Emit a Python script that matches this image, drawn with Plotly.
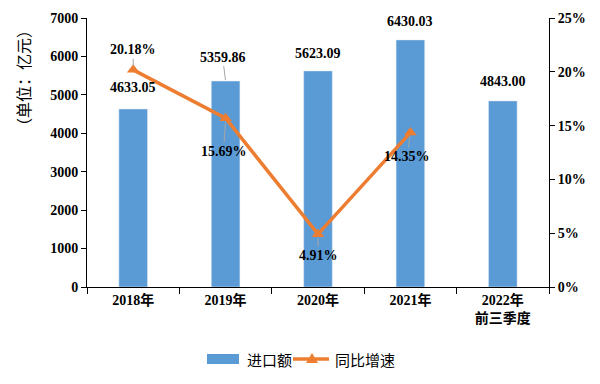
import plotly.graph_objects as go

categories = ["2018年", "2019年", "2020年", "2021年", "2022年<br>前三季度"]
import_values = [4633.05, 5359.86, 5623.09, 6430.03, 4843.00]
growth_values = [0.2018, 0.1569, 0.0491, 0.1435, None]
bar_labels = ["4633.05", "5359.86", "5623.09", "6430.03", "4843.00"]
growth_labels = ["20.18%", "15.69%", "4.91%", "14.35%"]

BLUE = "#5B9BD5"
ORANGE = "#ED7D31"
SERIF = "Liberation Serif"
CJK = "Liberation Serif, Noto Sans CJK SC"

# page offset of the figure (default body margin)
OFF = 8
# plot-area geometry in page px
L, R, T, B = 87, 549, 18, 287
W, H = 600, 384


def px(x):
    return (x - L) / (R - L)


def py(y):
    return (B - y) / (B - T)


fig = go.Figure()
fig.add_trace(go.Bar(
    x=categories, y=import_values, name="进口额",
    marker=dict(color=BLUE), yaxis="y",
))
fig.add_trace(go.Scatter(
    x=categories, y=growth_values, name="同比增速", yaxis="y2",
    mode="lines+markers",
    line=dict(color=ORANGE, width=3.5),
    marker=dict(symbol="triangle-up", size=11, color=ORANGE),
))

lab_font = dict(family=SERIF, size=14, color="black", weight="bold")

bar_offsets = [(0, -21), (-3, -24), (0, -17), (0, -18), (0, -19)]
bar_arrow = [False, True, False, False, False]
for c, v, t, (ax, ay), arr in zip(categories, import_values, bar_labels, bar_offsets, bar_arrow):
    fig.add_annotation(
        x=c, y=v, xref="x", yref="y", text=t, font=lab_font,
        showarrow=True, ax=ax, ay=ay, arrowhead=0, arrowwidth=1,
        arrowcolor="#A6A6A6" if arr else "rgba(0,0,0,0)", standoff=1,
    )

line_offsets = [(0, -20), (-2, 33), (0, 21), (-3, 24)]
for c, v, t, (ax, ay) in zip(categories, growth_values, growth_labels, line_offsets):
    fig.add_annotation(
        x=c, y=v, xref="x", yref="y2", text=t, font=lab_font,
        showarrow=True, ax=ax, ay=ay, arrowhead=0, arrowwidth=1,
        arrowcolor="#A6A6A6", standoff=4,
    )

# y-axis title
fig.add_annotation(
    x=px(23), y=py(78), xref="paper", yref="paper", text="（单位：亿元）",
    textangle=-90, showarrow=False,
    font=dict(family="Noto Sans CJK SC", size=16, color="black"),
    xanchor="center", yanchor="middle",
)

# manual legend
leg_font = dict(family="Noto Sans CJK SC", size=15, color="black")
fig.add_shape(type="rect", xref="paper", yref="paper",
              x0=px(207), x1=px(239), y0=py(364), y1=py(354),
              fillcolor=BLUE, line=dict(width=0))
fig.add_annotation(x=px(245), y=py(359), xref="paper", yref="paper", text="进口额",
                   showarrow=False, xanchor="left", yanchor="middle", font=leg_font)
fig.add_shape(type="line", xref="paper", yref="paper",
              x0=px(293), x1=px(329), y0=py(359), y1=py(359),
              line=dict(color=ORANGE, width=3.5))
fig.add_shape(type="path", xref="paper", yref="paper",
              path=f"M {px(306)},{py(363)} L {px(318)},{py(363)} L {px(312)},{py(353)} Z",
              fillcolor=ORANGE, line=dict(width=0))
fig.add_annotation(x=px(333), y=py(359), xref="paper", yref="paper", text="同比增速",
                   showarrow=False, xanchor="left", yanchor="middle", font=leg_font)

tick_font = dict(family=SERIF, size=14, color="black", weight="bold")

fig.update_layout(
    width=W, height=H,
    margin=dict(l=L - OFF, r=W - (R - OFF), t=T - OFF, b=H - (B - OFF)),
    paper_bgcolor="white", plot_bgcolor="white",
    bargap=0.69,
    showlegend=False,
    xaxis=dict(
        type="category", showline=True, linecolor="black", linewidth=1,
        ticks="outside", tickson="boundaries", ticklen=6, tickcolor="black",
        tickfont=dict(family=CJK, size=14, color="black", weight="bold"),
        showgrid=False, zeroline=False, automargin=False,
    ),
    yaxis=dict(
        range=[0, 7000], dtick=1000, showline=True, linecolor="black", linewidth=1,
        ticks="outside", ticklen=5, tickcolor="black", tickfont=tick_font,
        showgrid=False, zeroline=False, automargin=False,
    ),
    yaxis2=dict(
        range=[0, 0.25], dtick=0.05, tickformat=".0%", overlaying="y", side="right",
        showline=True, linecolor="black", linewidth=1,
        ticks="outside", ticklen=5, tickcolor="black", tickfont=tick_font,
        showgrid=False, zeroline=False, automargin=False,
    ),
)

fig.write_html("out.html")
